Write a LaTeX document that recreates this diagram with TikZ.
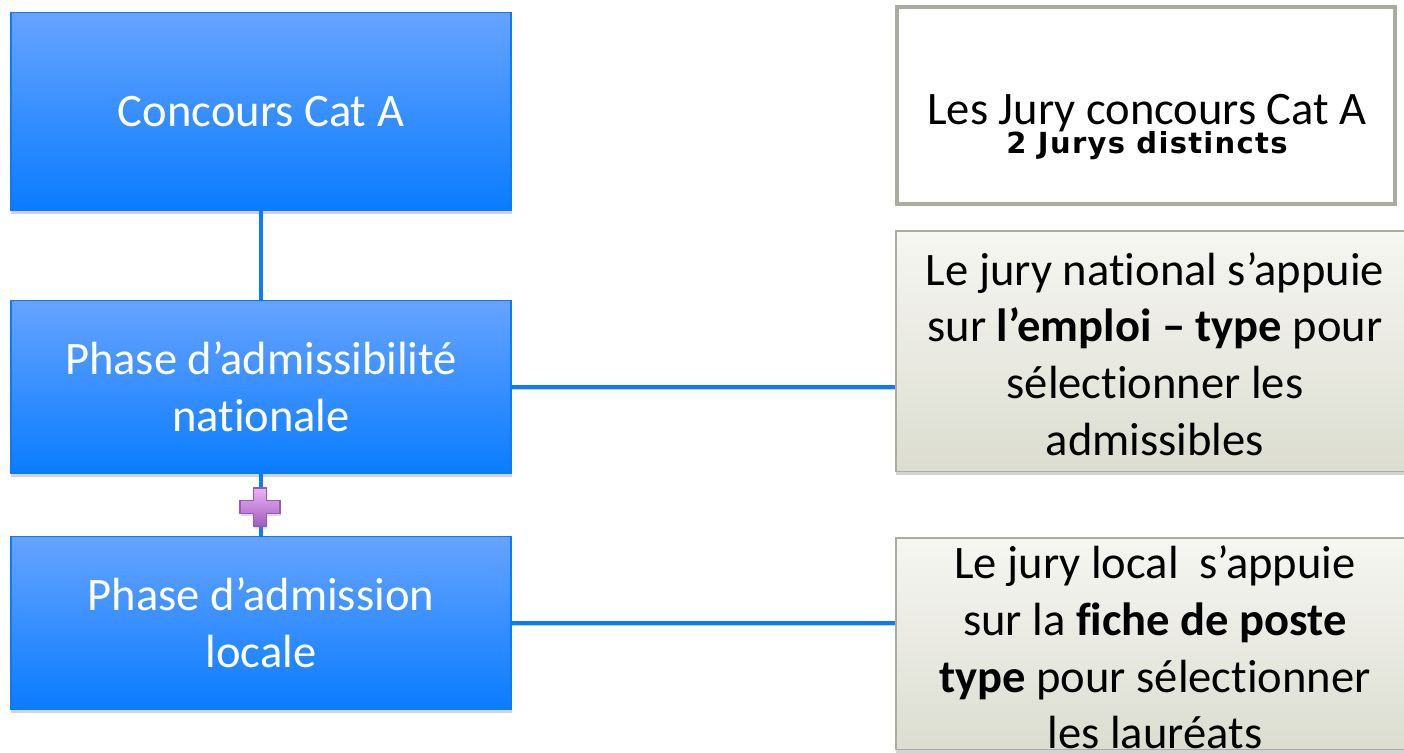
\documentclass[tikz,border=0pt]{standalone}
\usepackage{fontspec}
\setmainfont{Carlito}[Ligatures=NoCommon]
\newfontfamily\verdfont{DejaVu Sans}[LetterSpace=4.5]
\usetikzlibrary{shadows}

\definecolor{boxtop}{HTML}{66A3FF}
\definecolor{boxbot}{HTML}{0A7CFF}
\definecolor{boxline}{HTML}{0A7AFF}
\definecolor{grayline}{HTML}{A9AC9F}
\definecolor{notetop}{HTML}{F6F6F2}
\definecolor{notebot}{HTML}{DCDDD0}
\definecolor{plustop}{HTML}{E8B4F4}
\definecolor{plusbot}{HTML}{A45CC0}
\definecolor{plusline}{HTML}{9A5AB2}

\tikzset{
  catbox/.style={draw=boxline, line width=1.1pt, top color=boxtop, bottom color=boxbot,
    text=white, align=center, minimum width=10.02cm,
    font=\fontsize{26.5}{32.3}\selectfont,
    drop shadow={shadow xshift=0.5pt, shadow yshift=-2.2pt, opacity=0.35}},
  notebox/.style={draw=grayline, line width=1.1pt, top color=notetop, bottom color=notebot,
    align=center, minimum width=10.38cm,
    font=\fontsize{26.5}{32.3}\selectfont,
    drop shadow={shadow xshift=0.5pt, shadow yshift=-2.2pt, opacity=0.35}},
  notetext/.style={align=center, font=\fontsize{26.5}{32.3}\selectfont},
  headbox/.style={draw=grayline, line width=2.3pt, fill=white,
    minimum width=9.98cm, minimum height=3.94cm},
  link/.style={draw=boxline, line width=2.8pt,
    preaction={draw=black, opacity=0.18, transform canvas={yshift=-1.5pt}}},
  plussign/.style={draw=plusline, line width=0.8pt, top color=plustop, bottom color=plusbot,
    drop shadow={shadow xshift=0.5pt, shadow yshift=-1.5pt, opacity=0.3}}
}

\begin{document}
\begin{tikzpicture}[x=0.02cm,y=-0.02cm]
\useasboundingbox (0,0) rectangle (1404,752);

\node[catbox, minimum height=3.96cm] (cat) at (261,111.5) {Concours Cat A};
\node[catbox, minimum height=3.46cm] (adm) at (261,387) {Phase d’admissibilité\\nationale};
\node[catbox, minimum height=3.46cm] (loc) at (261,623) {Phase d’admission\\locale};

\node[headbox] (jury) at (1146,105.5) {};
\node[anchor=base, inner sep=0pt, font=\fontsize{26.5}{32.3}\selectfont] (jurytitle) at (1147,124) {Les Jury concours Cat A};
\node[anchor=base, inner sep=0pt, font=\verdfont\bfseries\fontsize{16.5}{20}\selectfont] (jurysub) at (1147,153) {2 Jurys distincts};

\node[notebox, minimum height=4.82cm] (natjury) at (1155,351) {\rule{0pt}{22pt}Le jury national s’appuie\\sur \textbf{l’emploi – type} pour\\sélectionner les\\admissibles};
\node[notebox, minimum height=4.24cm] (locjury) at (1155,643.5) {};
\node[notetext] (loctext) at (1155,647.5) {Le jury local\ \ s’appuie\\sur la \textbf{fiche de poste}\\\textbf{type} pour sélectionner\\les lauréats};

\draw[link] (node cs:name=cat) -- (node cs:name=adm);
\draw[link] (node cs:name=adm) -- (node cs:name=loc);
\draw[link] (adm.east) -- (adm.east -| natjury.west);
\draw[link] (loc.east) -- (loc.east -| locjury.west);

\coordinate (plus) at (260,507);
\draw[plussign] ([shift={(-20,-6.5)}]plus) -- ++(13.5,0) -- ++(0,-12.5) -- ++(13,0) -- ++(0,12.5)
  -- ++(13.5,0) -- ++(0,13) -- ++(-13.5,0) -- ++(0,12.5) -- ++(-13,0) -- ++(0,-12.5)
  -- ++(-13.5,0) -- cycle;
\end{tikzpicture}
\end{document}
